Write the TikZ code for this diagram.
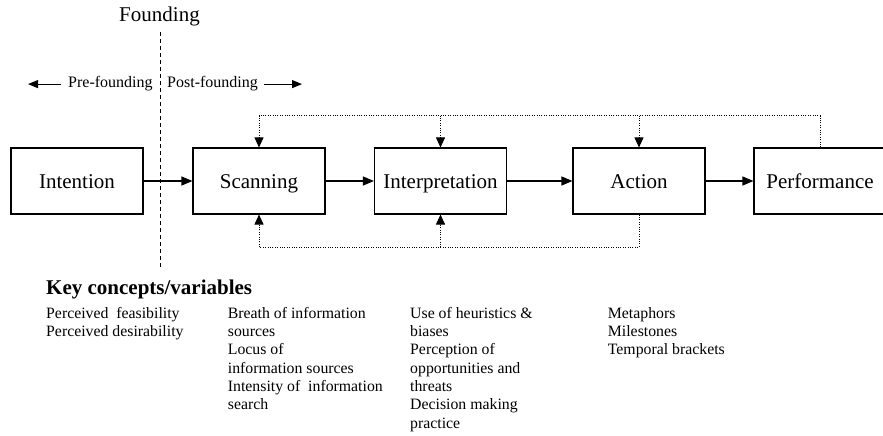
\documentclass[tikz,border=0pt]{standalone}
\usepackage{fontspec}
\setmainfont{Liberation Serif}
\usetikzlibrary{arrows.meta,calc}

\tikzset{
  stage/.style={draw, line width=1.1pt, minimum width=132pt, minimum height=66pt,
    inner sep=0pt, text height=14.4pt, text depth=0pt, font=\fontsize{21}{24}\selectfont},
  flow/.style={line width=1.1pt, -{Triangle[length=11pt,width=9pt]}},
  fb/.style={line width=0.9pt, dash pattern=on 1pt off 1.4pt, -{Triangle[length=10pt,width=9pt]}},
  phase/.style={inner sep=0pt, anchor=base west, font=\fontsize{16}{18}\selectfont},
  phasearrow/.style={line width=1.1pt, -{Triangle[length=10pt,width=8pt]}},
  concept/.style={inner sep=0pt, anchor=base west, font=\fontsize{15.8}{18.3}\selectfont},
}
\newcommand{\conceptlist}[1]{\begin{tabular}[t]{@{}l@{}}#1\end{tabular}}

\begin{document}
\begin{tikzpicture}[x=1pt, y=-1pt]
  \useasboundingbox (0,0) rectangle (883,436);

  % founding line
  \node[inner sep=0pt, anchor=base, font=\fontsize{21}{24}\selectfont] (found) at (159.5,22) {Founding};
  \coordinate (dtop) at (160,32);
  \coordinate (dbot) at (160,267);
  \draw[line width=1pt, dash pattern=on 4pt off 3pt] (dtop) -- (dbot);

  % pre / post founding labels
  \node[phase] (pre) at (68,88) {Pre-founding};
  \node[phase] (post) at (167,88) {Post-founding};
  \coordinate (preend) at (28,0);
  \coordinate (postend) at (302,0);
  \draw[phasearrow] ([xshift=-7pt]pre.west) -- (preend |- pre.west);
  \draw[phasearrow] ([xshift=6pt]post.east) -- (postend |- post.east);

  % process stages
  \node[stage] (int)    at (77,181)    {Intention};
  \node[stage] (scan)   at (259,181)   {Scanning};
  \node[stage] (interp) at (440.5,181) {Interpretation};
  \node[stage] (act)    at (639,181)   {Action};
  \node[stage] (perf)   at (820,181)   {Performance};

  \draw[flow] (int)    -- (scan);
  \draw[flow] (scan)   -- (interp);
  \draw[flow] (interp) -- (act);
  \draw[flow] (act)    -- (perf);

  % feedback loops
  \coordinate (fbtop) at (0,115.5);
  \coordinate (fbbot) at (0,247.3);
  \draw[fb] (perf.north) |- (fbtop -| scan.north) -- (scan.north);
  \draw[fb] (fbtop -| interp.north) -- (interp.north);
  \draw[fb] (fbtop -| act.north) -- (act.north);
  \draw[fb] (act.south) |- (fbbot -| scan.south) -- (scan.south);
  \draw[fb] (fbbot -| interp.south) -- (interp.south);

  % key concepts
  \node[inner sep=0pt, anchor=base west, font=\fontsize{21}{24}\selectfont\bfseries] (key) at (46,294) {Key concepts/variables};
  \node[concept] (c1) at (46,318.3) {\conceptlist{Perceived~ feasibility\\Perceived desirability}};
  \node[concept] (c2) at (227.7,318.3) {\conceptlist{Breath of information\\sources\\Locus of\\information sources\\Intensity of~ information\\search}};
  \node[concept] (c3) at (410,318.3) {\conceptlist{Use of heuristics \&\\biases\\Perception of\\opportunities and\\threats\\Decision making\\practice}};
  \node[concept] (c4) at (607.7,318.3) {\conceptlist{Metaphors\\Milestones\\Temporal brackets}};
\end{tikzpicture}
\end{document}
